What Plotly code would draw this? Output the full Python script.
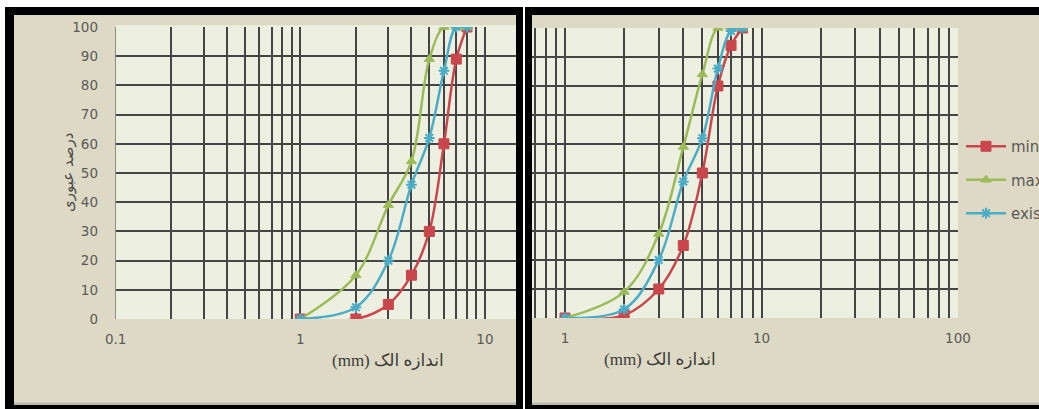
import plotly.graph_objects as go

# ---------------- data ----------------
sieve_mm = [1, 2, 3, 4, 5, 6, 7, 8]

left_min = [0, 0, 5, 15, 30, 60, 89, 100]
left_max = [0, 15, 39, 54, 89, 100, 100, 100]
left_existing = [0, 4, 20, 46, 62, 85, 100, 100]

right_min = [0, 1, 10, 25, 50, 80, 94, 100]
right_max = [0, 9, 29, 59, 84, 100, 100, 100]
right_existing = [0, 3, 20, 47, 62, 86, 99, 100]

series_names = ["min", "max", "existing"]

grid_digits = [1, 2, 3, 4, 5, 6, 7, 8, 9]
decades = [0.1, 1, 10]
x_grid_vals = [d * g for d in decades for g in grid_digits] + [100]
left_x_labels = {0.1: "0.1", 1: "1", 10: "10"}
right_x_labels = {1: "1", 10: "10", 100: "100"}
y_tick_vals = [0, 10, 20, 30, 40, 50, 60, 70, 80, 90, 100]

y_title = "درصد عبوری"
x_title = "(mm) اندازه الک"

# ---------------- style ----------------
W, H = 1039, 409
TAN = "#DDD9C4"
PLOT_BG = "#EDF0E1"
GRID = "#454545"
TEXT = "#5a5a5a"
COLORS = ["#C9474C", "#9BBB59", "#4BACC6"]
SYMBOLS = ["square", "triangle-up", "asterisk-open"]
FONT = "DejaVu Sans"


def px(x):
    return x / W


def py(y):
    return 1 - y / H


fig = go.Figure()

left_sets = [left_min, left_max, left_existing]
right_sets = [right_min, right_max, right_existing]

for sets, xa, ya, show in [(left_sets, "x", "y", False), (right_sets, "x2", "y2", True)]:
    for i, vals in enumerate(sets):
        sym = SYMBOLS[i]
        marker = dict(symbol=sym, size=10 if i == 0 else 9, color=COLORS[i],
                      line=dict(color=COLORS[i], width=2 if "open" in sym else 1))
        fig.add_trace(go.Scatter(
            x=sieve_mm, y=vals, mode="lines+markers", name=series_names[i],
            line=dict(color=COLORS[i], width=2.5, shape="spline", smoothing=1.0),
            marker=marker, xaxis=xa, yaxis=ya, showlegend=show,
            legendgroup=series_names[i],
        ))

# layout geometry (window pixels)
L_x0, L_x1, L_yt, L_yb = 115.7, 516, 27, 319
L_dec = 184.6
R_x0, R_x1, R_yt, R_yb = 532, 958, 28, 318
R_dec = 196.5
R_one = 565

left_range = [-1, -1 + (L_x1 - L_x0) / L_dec]
right_range = [(R_x0 - R_one) / R_dec, (R_x1 - R_one) / R_dec]

axis_common = dict(showgrid=True, gridcolor=GRID, gridwidth=1.5, zeroline=False,
                   tickfont=dict(family=FONT, size=13.5, color=TEXT), ticks="")

fig.update_layout(
    width=W, height=H, margin=dict(l=0, r=0, t=0, b=0, pad=0, autoexpand=False),
    paper_bgcolor="white", plot_bgcolor="rgba(0,0,0,0)",
    xaxis=dict(type="log", domain=[px(L_x0), px(L_x1)], range=left_range,
               tickvals=x_grid_vals,
               ticktext=[left_x_labels.get(round(v, 6), "") for v in x_grid_vals],
               ticklabelstandoff=10, anchor="y", showline=False, **axis_common),
    yaxis=dict(domain=[py(L_yb), py(L_yt)], range=[0, 100], tickvals=y_tick_vals,
               ticklabelstandoff=14, anchor="x", showline=True, linecolor="#8c8c8c",
               linewidth=1, **axis_common),
    xaxis2=dict(type="log", domain=[px(R_x0), px(R_x1)], range=right_range,
                tickvals=x_grid_vals,
                ticktext=[right_x_labels.get(round(v, 6), "") for v in x_grid_vals],
                ticklabelstandoff=10, anchor="y2", showline=False, **axis_common),
    yaxis2=dict(domain=[py(R_yb), py(R_yt)], range=[0, 100], tickvals=y_tick_vals,
                showticklabels=False, anchor="x2", showline=False, **axis_common),
    legend=dict(x=px(961), y=py(130), xanchor="left", yanchor="top",
                bgcolor="rgba(0,0,0,0)", font=dict(family=FONT, size=15, color=TEXT),
                itemwidth=40, tracegroupgap=11, traceorder="grouped"),
    showlegend=True,
)

shapes = []
# panel frames
for (bx0, bx1, ix0, ix1) in [(5, 523, 14, 516), (525, 1060, 532, 1060)]:
    shapes.append(dict(type="rect", xref="paper", yref="paper", layer="below",
                       x0=px(bx0), x1=px(bx1), y0=py(7), y1=py(420),
                       fillcolor="black", line=dict(width=0)))
    shapes.append(dict(type="rect", xref="paper", yref="paper", layer="below",
                       x0=px(ix0), x1=px(ix1), y0=py(15), y1=py(405),
                       fillcolor="#B9B9B3", line=dict(width=0)))
    shapes.append(dict(type="rect", xref="paper", yref="paper", layer="below",
                       x0=px(ix0), x1=px(ix1), y0=py(15), y1=py(402.5),
                       fillcolor=TAN, line=dict(width=0)))
# plot area backgrounds
shapes.append(dict(type="rect", xref="x domain", yref="y domain", layer="below",
                   x0=0, x1=1, y0=0, y1=1.006, fillcolor=PLOT_BG, line=dict(width=0)))
shapes.append(dict(type="rect", xref="x2 domain", yref="y2 domain", layer="below",
                   x0=0, x1=1, y0=0, y1=1, fillcolor=PLOT_BG, line=dict(width=0)))
fig.update_layout(shapes=shapes)

annotations = [
    dict(text=y_title, x=px(57), y=py(172), xref="paper", yref="paper", textangle=-90,
         showarrow=False, font=dict(family=FONT, size=15, color="#4a4a4a")),
    dict(text=x_title, x=px(388), y=py(372), xref="paper", yref="paper",
         showarrow=False, font=dict(family="Liberation Serif, DejaVu Sans", size=17, color="#3a3a3a")),
    dict(text=x_title, x=px(660), y=py(371), xref="paper", yref="paper",
         showarrow=False, font=dict(family="Liberation Serif, DejaVu Sans", size=17, color="#3a3a3a")),
]
fig.update_layout(annotations=annotations)

fig.write_html("out.html")
